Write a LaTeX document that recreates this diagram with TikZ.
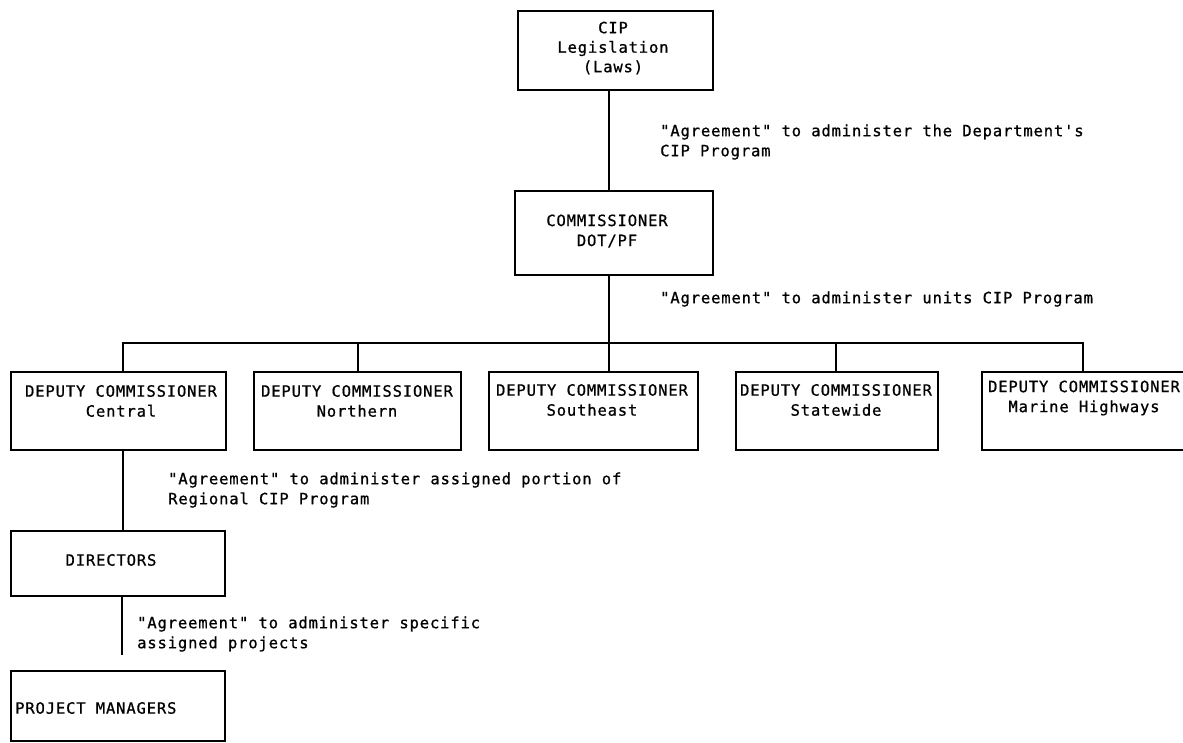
\documentclass[tikz,border=0pt]{standalone}
\usepackage{fontspec}
\newfontfamily\tw{DejaVu Sans Mono}[LetterSpace=5.5, FakeBold=0.8]
\begin{document}
\begin{tikzpicture}[x=1pt,y=-1pt,
  box/.style={draw, line width=1.7pt, anchor=north west, inner sep=0pt},
  txt/.style={font={\tw\fontsize{15.5}{20}\selectfont}, align=center, inner sep=0pt},
  lbl/.style={font={\tw\fontsize{15.5}{20}\selectfont}, align=left, anchor=west, inner sep=0pt},
  conn/.style={line width=1.7pt}]
\useasboundingbox[fill=white] (0,0) rectangle (1183,742);
% boxes
\node[box, minimum width=195pt, minimum height=79pt] (cip) at (517,10) {};
\node[box, minimum width=198pt, minimum height=84pt] (comm) at (514,190) {};
\node[box, minimum width=215pt, minimum height=78pt] (dep1) at (10,371) {};
\node[box, minimum width=207pt, minimum height=78pt] (dep2) at (253,371) {};
\node[box, minimum width=209pt, minimum height=78pt] (dep3) at (488,371) {};
\node[box, minimum width=202pt, minimum height=78pt] (dep4) at (735,371) {};
\node[box, minimum width=219pt, minimum height=78pt] (dep5) at (981,371) {};
\node[box, minimum width=214pt, minimum height=65pt] (dir) at (10,530) {};
\node[box, minimum width=214pt, minimum height=70pt] (pm) at (10,670) {};
% texts
\node[txt] (tcip) at (613,48) {CIP\\[-0.5pt]Legislation\\[-0.5pt](Laws)};
\node[txt] (tcomm) at (607,231) {COMMISSIONER\\DOT/PF};
\node[txt] (tdep1) at (121,401) {DEPUTY COMMISSIONER\\Central};
\node[txt] (tdep2) at (357,401) {DEPUTY COMMISSIONER\\Northern};
\node[txt] (tdep3) at (592,400) {DEPUTY COMMISSIONER\\Southeast};
\node[txt] (tdep4) at (836,400) {DEPUTY COMMISSIONER\\Statewide};
\node[txt] (tdep5) at (1084,398) {DEPUTY COMMISSIONER\\Marine Highways};
\node[txt] (tdir) at (111,560) {DIRECTORS};
\node[lbl] (tpm) at (15,708) {PROJECT MANAGERS};
% labels
\node[lbl] (l1) at (660,142) {"Agreement" to administer the Department's\\CIP Program};
\node[lbl] (l2) at (660,299) {"Agreement" to administer units CIP Program};
\node[lbl] (l3) at (168,490) {"Agreement" to administer assigned portion of\\Regional CIP Program};
\node[lbl] (l4) at (137,634) {"Agreement" to administer specific\\assigned projects};
% connectors
\coordinate (trunk) at (609,0);
\coordinate (busL) at (123,343);
\coordinate (busR) at (1083,343);
\coordinate (t2) at (358,343);
\coordinate (t4) at (836,343);
\coordinate (pmEnd) at (122,655);
\draw[conn] (cip.south -| trunk) -- (comm.north -| trunk);
\draw[conn] (comm.south -| trunk) -- (dep3.north -| trunk);
\draw[conn] (dep1.north -| busL) -- (busL) -- (busR) -- (dep5.north -| busR);
\draw[conn] (dep2.north -| t2) -- (t2);
\draw[conn] (dep4.north -| t4) -- (t4);
\draw[conn] (dep1.south -| busL) -- (dir.north -| busL);
\draw[conn] (dir.south -| pmEnd) -- (pmEnd);
\end{tikzpicture}
\end{document}
